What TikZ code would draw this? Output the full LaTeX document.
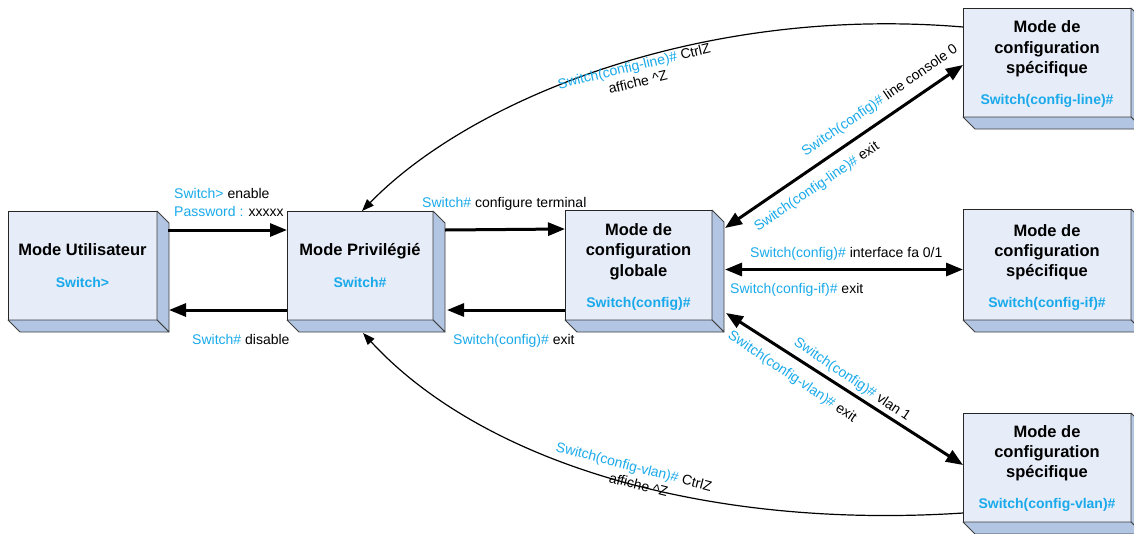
\documentclass[tikz,border=0pt]{standalone}
\usepackage{fontspec}
\setmainfont{Liberation Sans}
\usetikzlibrary{arrows.meta}

\definecolor{faceblue}{RGB}{230,236,248}
\definecolor{sideblue}{RGB}{178,197,227}
\definecolor{cmdblue}{RGB}{26,170,235}

\newcommand\cmd[1]{\textcolor{cmdblue}{#1}}
% right and bottom faces of an extruded box
\newcommand\extrude[1]{%
  \filldraw[face] (#1.north east) -- ([shift={(12,12)}]#1.north east)
    -- ([shift={(12,12)}]#1.south east) -- (#1.south east) -- cycle;
  \filldraw[face] (#1.south west) -- (#1.south east)
    -- ([shift={(12,12)}]#1.south east) -- ([shift={(12,12)}]#1.south west) -- cycle;
}

\tikzset{
  modebox/.style={rectangle, draw=black!85, line width=0.9pt, fill=faceblue,
    inner sep=0pt, outer sep=0pt},
  face/.style={draw=black!75, line width=0.8pt, fill=sideblue, line join=round},
  title/.style={font=\fontsize{16.5}{20}\selectfont\bfseries, anchor=base, inner sep=0pt},
  prompt/.style={font=\fontsize{14}{17}\selectfont\bfseries, text=cmdblue, anchor=base, inner sep=0pt},
  lbl/.style={font=\fontsize{14}{17}\selectfont, inner sep=0pt},
  twolines/.style={font=\fontsize{14}{16.5}\selectfont, inner sep=0pt, align=center},
  bigarrow/.style={line width=3pt, -{Triangle[length=17pt,width=13pt]}},
  botharrow/.style={line width=3pt, {Triangle[length=17pt,width=13pt]}-{Triangle[length=17pt,width=13pt]}},
  backarrow/.style={line width=1.2pt, -{Triangle[length=12pt,width=9pt]}},
}

\begin{document}
\begin{tikzpicture}[x=1pt, y=-1pt]
\useasboundingbox (0,0) rectangle (1134,533);
\clip (0,0) rectangle (1134,533);
\fill[white] (0,0) rectangle (1134,533);

% ---- mode boxes ----
\node[modebox, minimum width=149, minimum height=109] (user) at (82.5,265.5) {};
\node[modebox, minimum width=146, minimum height=109] (priv) at (360,265.5) {};
\node[modebox, minimum width=147, minimum height=110] (glob) at (638.5,265) {};
\node[modebox, minimum width=168, minimum height=109] (line) at (1047,62.5) {};
\node[modebox, minimum width=168, minimum height=111] (intf) at (1047,264.5) {};
\node[modebox, minimum width=168, minimum height=109] (vlan) at (1047,467.5) {};
\extrude{user}
\extrude{priv}
\extrude{glob}
\extrude{line}
\extrude{intf}
\extrude{vlan}

% ---- box texts ----
\node[title] (user-t) at (82.5,255.7) {Mode Utilisateur};
\node[prompt] (user-p) at (82.5,287) {Switch>};

\node[title] (priv-t) at (360,255.7) {Mode Privilégié};
\node[prompt] (priv-p) at (360,287) {Switch\#};

\node[title] (glob-t1) at (638.5,235.5) {Mode de};
\node[title] (glob-t2) at (638.5,255.7) {configuration};
\node[title] (glob-t3) at (638.5,276) {globale};
\node[prompt] (glob-p) at (638.5,307) {Switch(config)\#};

\node[title] (line-t1) at (1047,32.5) {Mode de};
\node[title] (line-t2) at (1047,53) {configuration};
\node[title] (line-t3) at (1047,73.5) {spécifique};
\node[prompt] (line-p) at (1047,104) {Switch(config-line)\#};

\node[title] (intf-t1) at (1047,236) {Mode de};
\node[title] (intf-t2) at (1047,256) {configuration};
\node[title] (intf-t3) at (1047,276) {spécifique};
\node[prompt] (intf-p) at (1047,307) {Switch(config-if)\#};

\node[title] (vlan-t1) at (1047,437.5) {Mode de};
\node[title] (vlan-t2) at (1047,457.5) {configuration};
\node[title] (vlan-t3) at (1047,477.5) {spécifique};
\node[prompt] (vlan-p) at (1047,508) {Switch(config-vlan)\#};

% ---- straight transitions ----
\draw[bigarrow] ([shift={(11,19)}]user.north east) -- ([yshift=-19pt]priv.north west);
\draw[bigarrow] ([yshift=10pt]priv.south west) -- ([shift={(12,-10)}]user.south east);
\draw[bigarrow] ([shift={(12,19)}]priv.north east) -- ([yshift=-19pt]glob.north west);
\draw[bigarrow] ([yshift=10pt]glob.south west) -- ([shift={(14,-10)}]priv.south east);
\draw[botharrow] ([shift={(13,18)}]glob.north east) -- ([yshift=-57pt]line.north west);
\draw[botharrow] ([shift={(13,4.5)}]glob.east) -- ([yshift=-5pt]intf.west);
\draw[botharrow] ([shift={(14,-7)}]glob.south east) -- ([yshift=-52pt]vlan.north west);

% ---- return paths to privileged mode ----
\draw[backarrow] ([yshift=-19pt]line.north west)
  .. controls (700,5) and (470,100) .. ([xshift=2pt]priv.north);
\draw[backarrow] ([yshift=9pt]vlan.south west)
  .. controls (700,530) and (480,460) .. ([shift={(3,13)}]priv.south);

% ---- command labels ----
\node[lbl, anchor=base west] (l-enable) at (174,198) {\cmd{Switch>} enable};
\node[lbl, anchor=base west] (l-pass) at (174,216) {\cmd{Password :} xxxxx};
\node[lbl, anchor=base west] (l-disable) at (192,344) {\cmd{Switch\#} disable};
\node[lbl, anchor=base west] (l-conft) at (422,207) {\cmd{Switch\#} configure terminal};
\node[lbl, anchor=base west] (l-exit) at (453,344) {\cmd{Switch(config)\#} exit};
\node[lbl, anchor=base west] (l-intf) at (750,257) {\cmd{Switch(config)\#} interface fa 0/1};
\node[lbl, anchor=base west] (l-ifexit) at (730,293) {\cmd{Switch(config-if)\#} exit};

\node[lbl, rotate=34.5] (l-linecon) at (880,101) {\cmd{Switch(config)\#} line console 0};
\node[lbl, rotate=34.5] (l-lineexit) at (817,187) {\cmd{Switch(config-line)\#} exit};
\node[lbl, rotate=-34] (l-vlan) at (852,380) {\cmd{Switch(config)\#} vlan 1};
\node[lbl, rotate=-34] (l-vlanexit) at (792,377) {\cmd{Switch(config-vlan)\#} exit};

\node[twolines, rotate=13.5] (l-ctrlz1) at (636,74)
  {\cmd{Switch(config-line)\#} CtrlZ\\affiche \^{}Z};
\node[twolines, rotate=-14.5] (l-ctrlz2) at (632,474.5)
  {\cmd{Switch(config-vlan)\#} CtrlZ\\\hspace*{18pt}affiche \^{}Z};
\end{tikzpicture}
\end{document}
